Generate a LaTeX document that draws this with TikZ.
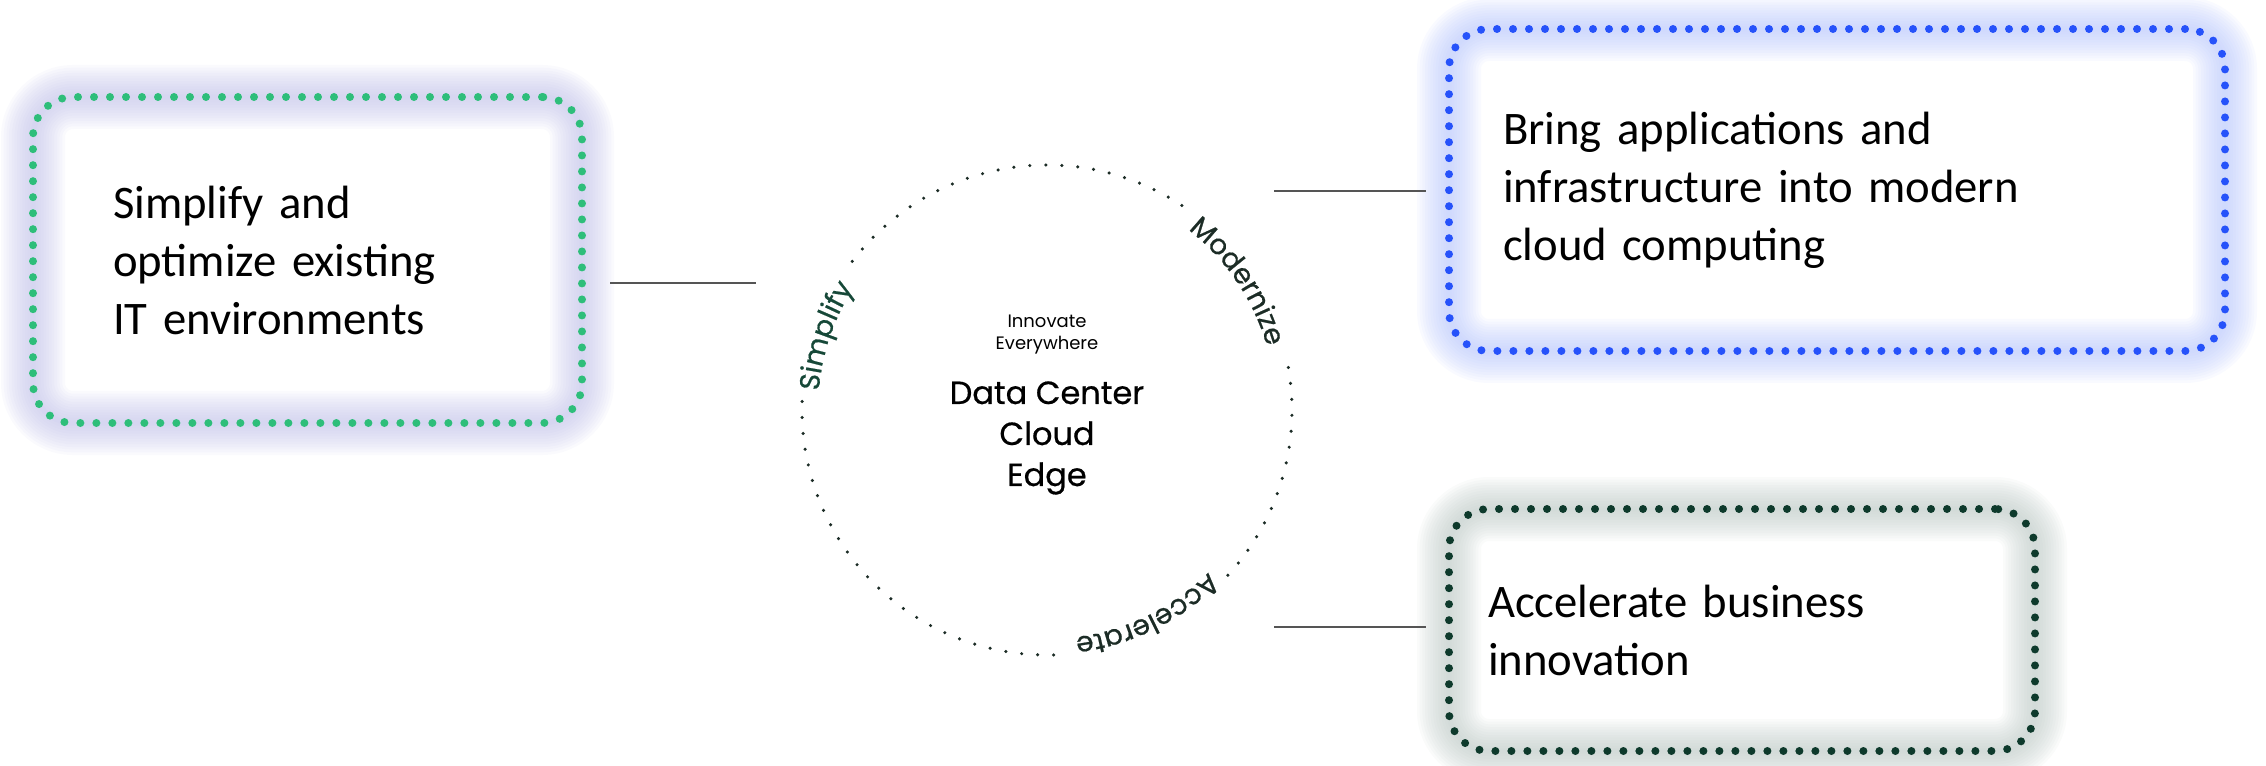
\documentclass[tikz,border=0pt]{standalone}
\usepackage{fontspec}
\setmainfont{Carlito}
\newfontfamily\popfont{Poppins}
\newfontfamily\popmed{Poppins}[FakeBold=0.6]
\usepackage{tikz}
\usetikzlibrary{positioning}
\usetikzlibrary{decorations.text}
\usetikzlibrary{backgrounds}

\definecolor{simpdot}{RGB}{46,190,122}
\definecolor{simpglow}{RGB}{190,190,232}
\definecolor{moddot}{RGB}{38,82,250}
\definecolor{modglow}{RGB}{180,195,252}
\definecolor{accdot}{RGB}{14,58,44}
\definecolor{accglow}{RGB}{185,198,194}
\definecolor{ringdot}{RGB}{28,44,38}
\definecolor{simpword}{RGB}{22,72,56}
\definecolor{linkgray}{RGB}{85,85,85}

\newcommand\ringfont{\popmed\fontsize{21}{21}\selectfont}

\tikzset{
  goalbox/.style={rounded corners=30pt, line width=6pt, line cap=round,
                  dash pattern=on 0pt off 12pt, align=left, outer sep=0pt,
                  font=\fontsize{35}{43.5}\selectfont},
  glowring/.style={draw=#1, rounded corners=30pt, draw opacity=0.08},
  ringdots/.style={draw=ringdot, line width=2.6pt, line cap=round,
                   dash pattern=on 0pt off 12pt},
  link/.style={draw=linkgray, line width=1.5pt},
}

\begin{document}
\begin{tikzpicture}[x=0.75pt,y=0.75pt,yscale=-1,xscale=1]
\useasboundingbox (0,0) rectangle (2266,766);

% goal boxes
\node[goalbox, draw=simpdot, minimum height=244.5pt,
      text width=291.75pt, inner xsep=60pt] (simp) at (307.5,260)
      {Simplify and\\optimize existing\\IT environments};
\node[goalbox, draw=moddot, minimum height=241.5pt,
      text width=501pt, inner xsep=40.5pt] (modern) at (1837,190)
      {Bring applications and\\infrastructure into modern\\cloud computing};
\node[goalbox, draw=accdot, minimum height=181.5pt,
      text width=381pt, inner xsep=29.25pt] (accel) at (1742,630)
      {Accelerate business\\innovation};

% soft glow behind the boxes
\begin{scope}[on background layer]
  \foreach \w in {4,8,...,48}{
    \draw[glowring=simpglow, line width=\w pt] (simp.south west) rectangle (simp.north east);
    \draw[glowring=modglow, line width=\w pt] (modern.south west) rectangle (modern.north east);
    \draw[glowring=accglow, line width=\w pt] (accel.south west) rectangle (accel.north east);
  }
\end{scope}

% hub
\coordinate (hub) at (1047,410);
\node[font=\popfont\fontsize{13.5}{16.5}\selectfont, align=center] (motto) at (1047,335) {Innovate\\Everywhere};
\node[font=\popmed\fontsize{24}{30.75}\selectfont, align=center] (sites) at (1047,438) {Data Center\\Cloud\\Edge};

\begin{scope}[shift={(hub)}, yscale=-1]
  \draw[ringdots] (56.6:245) arc[start angle=56.6, end angle=145, radius=245];
  \draw[ringdots] (178:245) arc[start angle=178, end angle=274, radius=245];
  \draw[ringdots] (-42.4:245) arc[start angle=-42.4, end angle=11.5, radius=245];
  % ring words
  \path[decorate, decoration={text along path, text align=center, text color=simpword,
        text={|\ringfont|Simplify}}] (196.5:229) arc[start angle=196.5, end angle=126.5, radius=229];
  \path[decorate, decoration={text along path, text align=center, text color=ringdot,
        text={|\ringfont|Modernize}}] (69:229) arc[start angle=69, end angle=-1, radius=229];
  \path[decorate, decoration={text along path, text align=center, text color=ringdot,
        text={|\ringfont|Accelerate}}] (-29:229) arc[start angle=-29, end angle=-99, radius=229];
\end{scope}

% connectors
\coordinate (simpA) at (610,283);
\coordinate (simpB) at (756,283);
\coordinate (modA) at (1274,191);
\coordinate (modB) at (1426,191);
\coordinate (accA) at (1274,627);
\coordinate (accB) at (1426,627);
\draw[link] (simpA) -- (simpB);
\draw[link] (modA) -- (modB);
\draw[link] (accA) -- (accB);

\end{tikzpicture}
\end{document}
